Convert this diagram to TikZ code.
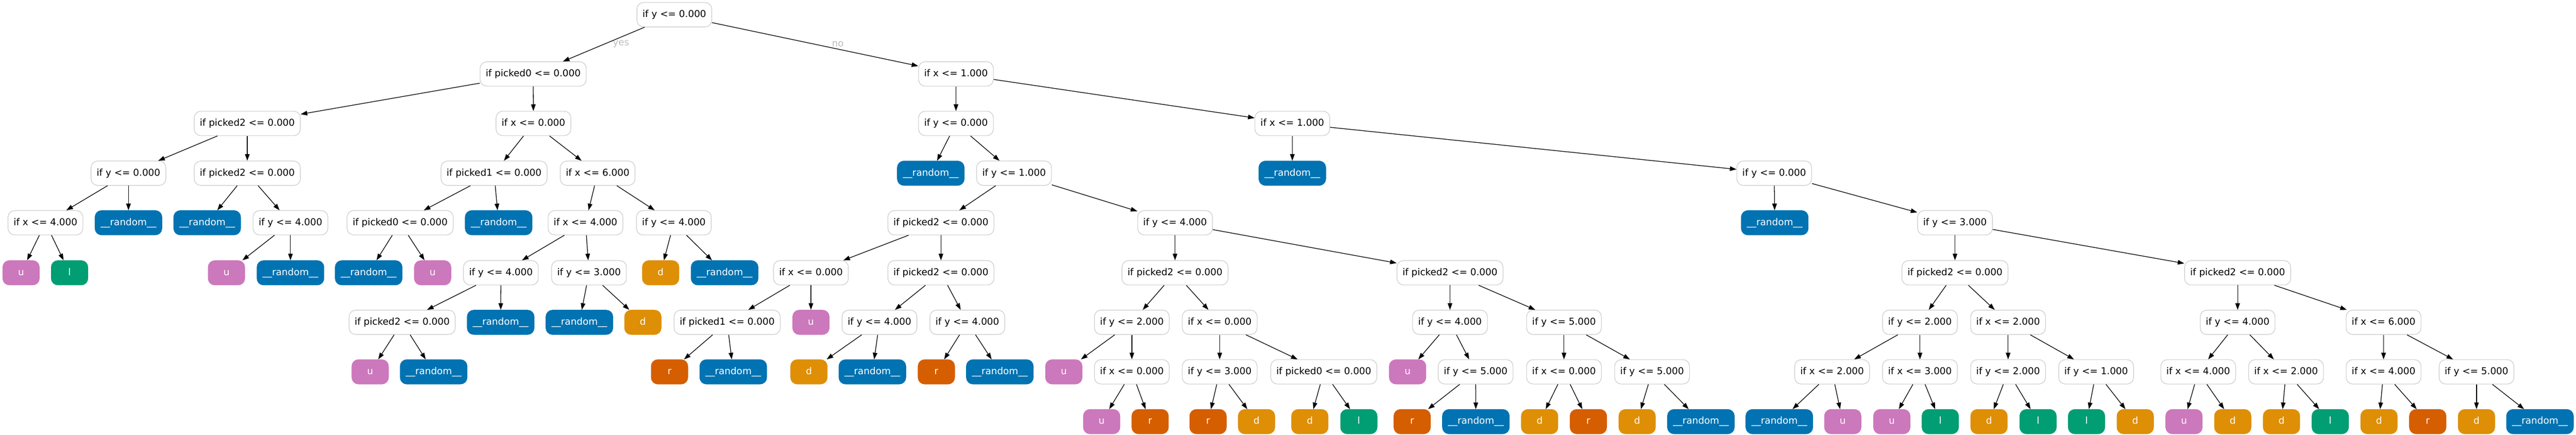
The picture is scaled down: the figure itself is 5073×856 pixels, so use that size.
\documentclass[tikz,border=0pt]{standalone}
\usepackage{fontspec}
\setmainfont{DejaVu Sans}
\usetikzlibrary{arrows.meta}
\definecolor{cblue}{HTML}{0173B2}
\definecolor{corange}{HTML}{DE8F05}
\definecolor{cgreen}{HTML}{029E73}
\definecolor{cred}{HTML}{D55E00}
\definecolor{cpink}{HTML}{CC78BC}
\definecolor{bgray}{HTML}{C8C8C8}
\definecolor{lgray}{HTML}{BDBDBD}
\newcommand\RND{\textunderscore\textunderscore random\textunderscore\textunderscore}
\tikzset{
  base/.style={rectangle, rounded corners=13pt, minimum height=48pt, minimum width=72pt,
    inner xsep=11pt, inner ysep=0pt, text height=14pt, text depth=4pt, line width=1.1pt,
    font=\fontsize{18.67pt}{22pt}\selectfont},
  dec/.style={base, draw=bgray, fill=white, text=black},
  lf/.style={base, draw=#1, fill=#1, text=white},
  lrnd/.style={lf=cblue},
  lu/.style={lf=cpink},
  ll/.style={lf=cgreen},
  ld/.style={lf=corange},
  lr/.style={lf=cred},
  edge/.style={-{Triangle[length=13pt,width=9pt]}, line width=1.3pt, black},
  lab/.style={text=lgray, font=\fontsize{18.67pt}{22pt}\selectfont, inner sep=0pt}
}
\begin{document}
\begin{tikzpicture}[x=1pt,y=-1pt]
\useasboundingbox (0,0) rectangle (5073,856);
% level 0
\node[dec] (n0) at (1328,29) {if y <= 0.000};
% level 1
\node[dec] (n1) at (1050,145.5) {if picked0 <= 0.000};
\node[dec] (n2) at (1882.6,145.5) {if x <= 1.000};
% level 2
\node[dec] (n3) at (487,243) {if picked2 <= 0.000};
\node[dec] (n4) at (1050.5,243) {if x <= 0.000};
\node[dec] (n5) at (1882.6,243) {if y <= 0.000};
\node[dec] (n6) at (2545,243) {if x <= 1.000};
% level 3
\node[dec] (n7) at (253,341) {if y <= 0.000};
\node[dec] (n8) at (487,341) {if picked2 <= 0.000};
\node[dec] (n9) at (973,341) {if picked1 <= 0.000};
\node[dec] (n10) at (1177,341) {if x <= 6.000};
\node[lrnd] (n11) at (1833,341) {\RND};
\node[dec] (n12) at (1997,341) {if y <= 1.000};
\node[lrnd] (n13) at (2545,341) {\RND};
\node[dec] (n14) at (3494,341) {if y <= 0.000};
% level 4
\node[dec] (n15) at (89.5,438.5) {if x <= 4.000};
\node[lrnd] (n16) at (253,438.5) {\RND};
\node[lrnd] (n17) at (408,438.5) {\RND};
\node[dec] (n18) at (572,438.5) {if y <= 4.000};
\node[dec] (n19) at (788,438.5) {if picked0 <= 0.000};
\node[lrnd] (n20) at (982,438.5) {\RND};
\node[dec] (n21) at (1153,438.5) {if x <= 4.000};
\node[dec] (n22) at (1327,438.5) {if y <= 4.000};
\node[dec] (n23) at (1853,438.5) {if picked2 <= 0.000};
\node[dec] (n24) at (2314,438.5) {if y <= 4.000};
\node[lrnd] (n25) at (3495,438.5) {\RND};
\node[dec] (n26) at (3850,438.5) {if y <= 3.000};
% level 5
\node[lu] (n27) at (41.5,537) {u};
\node[ll] (n28) at (137,537) {l};
\node[lu] (n29) at (446,537) {u};
\node[lrnd] (n30) at (572,537) {\RND};
\node[lrnd] (n31) at (726,537) {\RND};
\node[lu] (n32) at (852,537) {u};
\node[dec] (n33) at (986.5,537) {if y <= 4.000};
\node[dec] (n34) at (1160,537) {if y <= 3.000};
\node[ld] (n35) at (1301,537) {d};
\node[lrnd] (n36) at (1427,537) {\RND};
\node[dec] (n37) at (1597,537) {if x <= 0.000};
\node[dec] (n38) at (1853,537) {if picked2 <= 0.000};
\node[dec] (n39) at (2314,537) {if picked2 <= 0.000};
\node[dec] (n40) at (2855.5,537) {if picked2 <= 0.000};
\node[dec] (n41) at (3850,537) {if picked2 <= 0.000};
\node[dec] (n42) at (4406.6,537) {if picked2 <= 0.000};
% level 6
\node[dec] (n43) at (792,634.5) {if picked2 <= 0.000};
\node[lrnd] (n44) at (986,634.5) {\RND};
\node[lrnd] (n45) at (1141,634.5) {\RND};
\node[ld] (n46) at (1266,634.5) {d};
\node[dec] (n47) at (1432,634.5) {if picked1 <= 0.000};
\node[lu] (n48) at (1597,634.5) {u};
\node[dec] (n49) at (1732,634.5) {if y <= 4.000};
\node[dec] (n50) at (1905,634.5) {if y <= 4.000};
\node[dec] (n51) at (2229,634.5) {if y <= 2.000};
\node[dec] (n52) at (2402,634.5) {if x <= 0.000};
\node[dec] (n53) at (2855.5,634.5) {if y <= 4.000};
\node[dec] (n54) at (3080,634.5) {if y <= 5.000};
\node[dec] (n55) at (3781,634.5) {if y <= 2.000};
\node[dec] (n56) at (3954.6,634.5) {if x <= 2.000};
\node[dec] (n57) at (4406.6,634.5) {if y <= 4.000};
\node[dec] (n58) at (4694,634.5) {if x <= 6.000};
% level 7
\node[lu] (n59) at (729,732) {u};
\node[lrnd] (n60) at (854,732) {\RND};
\node[lr] (n61) at (1318.5,732) {r};
\node[lrnd] (n62) at (1444,732) {\RND};
\node[ld] (n63) at (1593,732) {d};
\node[lrnd] (n64) at (1718,732) {\RND};
\node[lr] (n65) at (1844,732) {r};
\node[lrnd] (n66) at (1969,732) {\RND};
\node[lu] (n67) at (2095,732) {u};
\node[dec] (n68) at (2229,732) {if x <= 0.000};
\node[dec] (n69) at (2402,732) {if y <= 3.000};
\node[dec] (n70) at (2607,732) {if picked0 <= 0.000};
\node[lu] (n71) at (2772,732) {u};
\node[dec] (n72) at (2906,732) {if y <= 5.000};
\node[dec] (n73) at (3080,732) {if x <= 0.000};
\node[dec] (n74) at (3253.5,732) {if y <= 5.000};
\node[dec] (n75) at (3608,732) {if x <= 2.000};
\node[dec] (n76) at (3781,732) {if x <= 3.000};
\node[dec] (n77) at (3954.6,732) {if y <= 2.000};
\node[dec] (n78) at (4128,732) {if y <= 1.000};
\node[dec] (n79) at (4329,732) {if x <= 4.000};
\node[dec] (n80) at (4502,732) {if x <= 2.000};
\node[dec] (n81) at (4694,732) {if x <= 4.000};
\node[dec] (n82) at (4877,732) {if y <= 5.000};
% level 8
\node[lu] (n83) at (2169.5,830) {u};
\node[lr] (n84) at (2265,830) {r};
\node[lr] (n85) at (2379,830) {r};
\node[ld] (n86) at (2474.5,830) {d};
\node[ld] (n87) at (2579.5,830) {d};
\node[ll] (n88) at (2676,830) {l};
\node[lr] (n89) at (2781,830) {r};
\node[lrnd] (n90) at (2906.5,830) {\RND};
\node[ld] (n91) at (3032,830) {d};
\node[lr] (n92) at (3128,830) {r};
\node[ld] (n93) at (3224,830) {d};
\node[lrnd] (n94) at (3349.6,830) {\RND};
\node[lrnd] (n95) at (3504,830) {\RND};
\node[lu] (n96) at (3629,830) {u};
\node[lu] (n97) at (3725.6,830) {u};
\node[ll] (n98) at (3821,830) {l};
\node[ld] (n99) at (3917,830) {d};
\node[ll] (n100) at (4013.6,830) {l};
\node[ll] (n101) at (4109,830) {l};
\node[ld] (n102) at (4205,830) {d};
\node[lu] (n103) at (4301,830) {u};
\node[ld] (n104) at (4397,830) {d};
\node[ld] (n105) at (4493,830) {d};
\node[ll] (n106) at (4589,830) {l};
\node[ld] (n107) at (4685,830) {d};
\node[lr] (n108) at (4781,830) {r};
\node[ld] (n109) at (4877,830) {d};
\node[lrnd] (n110) at (5002,830) {\RND};
% edge labels
\node[lab] (yes) at (1223,87) {yes};
\node[lab] (no) at (1650,87) {no};
% edges
\foreach \a/\b in {n0/n1,n0/n2,n1/n3,n1/n4,n2/n5,n2/n6,
  n3/n7,n3/n8,n4/n9,n4/n10,n5/n11,n5/n12,n6/n13,n6/n14,
  n7/n15,n7/n16,n8/n17,n8/n18,n9/n19,n9/n20,n10/n21,n10/n22,n12/n23,n12/n24,n14/n25,n14/n26,
  n15/n27,n15/n28,n18/n29,n18/n30,n19/n31,n19/n32,n21/n33,n21/n34,n22/n35,n22/n36,
  n23/n37,n23/n38,n24/n39,n24/n40,n26/n41,n26/n42,
  n33/n43,n33/n44,n34/n45,n34/n46,n37/n47,n37/n48,n38/n49,n38/n50,n39/n51,n39/n52,
  n40/n53,n40/n54,n41/n55,n41/n56,n42/n57,n42/n58,
  n43/n59,n43/n60,n47/n61,n47/n62,n49/n63,n49/n64,n50/n65,n50/n66,n51/n67,n51/n68,
  n52/n69,n52/n70,n53/n71,n53/n72,n54/n73,n54/n74,n55/n75,n55/n76,n56/n77,n56/n78,
  n57/n79,n57/n80,n58/n81,n58/n82,
  n68/n83,n68/n84,n69/n85,n69/n86,n70/n87,n70/n88,n72/n89,n72/n90,n73/n91,n73/n92,
  n74/n93,n74/n94,n75/n95,n75/n96,n76/n97,n76/n98,n77/n99,n77/n100,n78/n101,n78/n102,
  n79/n103,n79/n104,n80/n105,n80/n106,n81/n107,n81/n108,n82/n109,n82/n110}
  \draw[edge] (\a) -- (\b);
\end{tikzpicture}
\end{document}
